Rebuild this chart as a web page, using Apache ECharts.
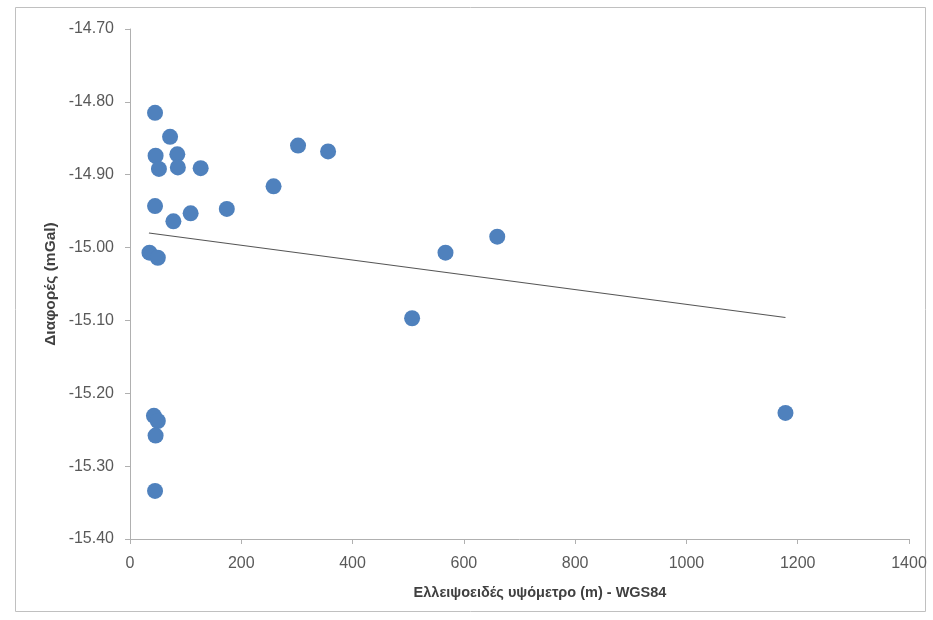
<!DOCTYPE html>
<html>
<head>
<meta charset="utf-8">
<script src="https://cdn.jsdelivr.net/npm/echarts@6/dist/echarts.min.js"></script>
<style>
html,body{margin:0;padding:0;background:#fff;}
#chart{width:933px;height:620px;}
</style>
</head>
<body>
<div id="chart"></div>
<script>
// Data
var heights = [45, 72, 46, 85, 52, 86, 127, 302, 356, 258, 45, 78, 109, 174, 35, 50, 43, 50, 46, 45, 567, 660, 507, 1178];
var differences = [-14.815, -14.848, -14.874, -14.872, -14.892, -14.890, -14.891, -14.860, -14.868, -14.916, -14.943, -14.964, -14.953, -14.947, -15.007, -15.014, -15.231, -15.238, -15.258, -15.334, -15.007, -14.985, -15.097, -15.227];
var trendX = [34, 1178];
var trendY = [-14.980, -15.096];
var xTitle = 'Ελλειψοειδές υψόμετρο (m) - WGS84';
var yTitle = 'Διαφορές (mGal)';

var points = heights.map(function (h, i) { return [h, differences[i]]; });
var trend = trendX.map(function (x, i) { return [x, trendY[i]]; });

var font = '"Liberation Sans", Arial, sans-serif';
var chart = echarts.init(document.getElementById('chart'), null, {renderer: 'canvas'});
chart.setOption({
  animation: false,
  backgroundColor: '#fff',
  grid: {left: 130, right: 24, top: 29, bottom: 81, containLabel: false},
  xAxis: {
    type: 'value', min: 0, max: 1400, interval: 200,
    axisLine: {show: true, lineStyle: {color: '#b0b0b0', width: 1}},
    axisTick: {show: true, length: 5, lineStyle: {color: '#b0b0b0'}},
    splitLine: {show: false},
    axisLabel: {color: '#595959', fontFamily: font, fontSize: 16, margin: 17,
      formatter: function (v) { return String(v); }}
  },
  yAxis: {
    type: 'value', min: -15.4, max: -14.7, interval: 0.1,
    axisLine: {show: true, lineStyle: {color: '#b0b0b0', width: 1}},
    axisTick: {show: true, length: 5, lineStyle: {color: '#b0b0b0'}},
    splitLine: {show: false},
    axisLabel: {color: '#595959', fontFamily: font, fontSize: 16, margin: 16,
      formatter: function (v) { return v.toFixed(2); }}
  },
  graphic: [
    {type: 'rect', shape: {x: 15.5, y: 7.5, width: 910, height: 604},
     style: {fill: 'none', stroke: '#c0c0c0', lineWidth: 1}, silent: true, z: -1},
    {type: 'text', x: 540, y: 593, style: {text: xTitle, fill: '#404040', font: 'bold 14.5px ' + font, textAlign: 'center', textVerticalAlign: 'middle'}},
    {type: 'text', x: 51, y: 284, rotation: Math.PI / 2, style: {text: yTitle, fill: '#404040', font: 'bold 15.5px ' + font, textAlign: 'center', textVerticalAlign: 'middle'}}
  ],
  series: [
    {type: 'scatter', data: points, symbol: 'circle', symbolSize: 16,
     itemStyle: {color: '#4F81BD', opacity: 1}, z: 3},
    {type: 'line', data: trend, symbol: 'none', lineStyle: {color: '#555', width: 1.2}, z: 2}
  ]
});
</script>
</body>
</html>
